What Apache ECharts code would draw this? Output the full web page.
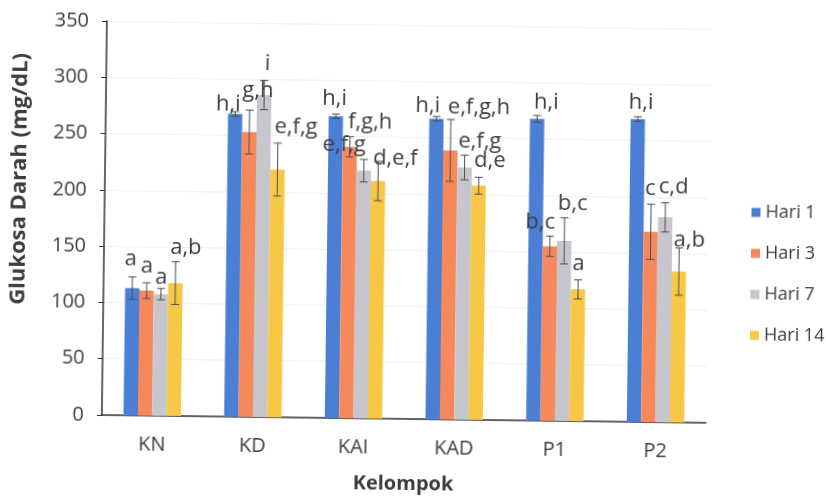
<!DOCTYPE html>
<html>
<head>
<meta charset="utf-8">
<script src="https://cdn.jsdelivr.net/npm/echarts@6/dist/echarts.min.js"></script>
<style>
  html, body { margin: 0; padding: 0; background: #fff; overflow: hidden; }
  #chart { width: 826px; height: 499px; transform: rotate(0.74deg); transform-origin: 413px 250px; }
</style>
</head>
<body>
<div id="chart"></div>
<script>
// Kelompok perlakuan dan hari pengukuran
const categories = ['KN', 'KD', 'KAI', 'KAD', 'P1', 'P2'];
const seriesNames = ['Hari 1', 'Hari 3', 'Hari 7', 'Hari 14'];

// Rata-rata glukosa darah (mg/dL)
const hari1 = [113, 269, 268, 267, 268, 269];
const hari3 = [111, 253, 241, 239, 155, 169];
const hari7 = [108, 286, 220, 224, 160, 182];
const hari14 = [118, 220, 211, 208, 117, 134];

// Simpangan baku
const sd1 = [10, 2, 2, 2, 3, 2];
const sd3 = [7, 19.5, 9, 27.5, 9, 24.5];
const sd7 = [5, 13, 10, 11, 20.5, 13];
const sd14 = [19, 23.5, 17.5, 7.5, 8.5, 21];

// Notasi uji lanjut
const notasi1 = ['a', 'h,i', 'h,i', 'h,i', 'h,i', 'h,i'];
const notasi3 = ['a', 'g,h', 'f,g,h', 'e,f,g,h', 'b,c', 'c'];
const notasi7 = ['a', 'i', 'e,f,g', 'e,f,g', 'b,c', 'c,d'];
const notasi14 = ['a,b', 'e,f,g', 'd,e,f', 'd,e', 'a', 'a,b'];

// Sumbu Y
const yMin = 0, yMax = 350, yStep = 50;

// Geser posisi notasi: [dx, jarak di atas ujung error bar] (px)
const notasiShift = [
  [[-2, 11], [-7, 1], [-1.5, 9], [-9, 4], [9, 7], [3, 8]],
  [[0, 10], [8, 13], [20, 8], [28, 6], [-10, 7], [-1, 9]],
  [[0, 5], [3, 10], [-20, 8], [15, 7], [8, 8], [8, 9]],
  [[10, 8], [18, 10], [17, -3], [11, 10], [0, 9], [10, 1]]
];

const colors = ['#4a7fd4', '#f6895c', '#c6c6cc', '#f7c746'];
const FONT = 'Open Sans';
const TEXT = '#3d3d3d';
const CAT_GAP = 0.43;

const means = [hari1, hari3, hari7, hari14];
const sds = [sd1, sd3, sd7, sd14];
const notes = [notasi1, notasi3, notasi7, notasi14];

function barSeries(idx) {
  return {
    type: 'bar',
    name: seriesNames[idx],
    data: means[idx],
    barGap: '0%',
    barCategoryGap: (CAT_GAP * 100) + '%',
    itemStyle: { color: colors[idx] },
    z: 2
  };
}

function errorSeries(idx) {
  const m = means[idx], s = sds[idx];
  return {
    type: 'custom',
    z: 5,
    silent: true,
    data: m.map((v, i) => [i, v - s[i], v + s[i]]),
    encode: { x: 0, y: [1, 2] },
    renderItem(params, api) {
      const i = params.dataIndex;
      const band = api.size([1, 0])[0];
      const barW = band * (1 - CAT_GAP) / 4;
      const cx = api.coord([api.value(0), 0])[0] + (idx - 1.5) * barW;
      const lo = api.coord([api.value(0), api.value(1)])[1];
      const hi = api.coord([api.value(0), api.value(2)])[1];
      const cap = 4;
      const line = { stroke: '#4d4d4d', lineWidth: 1 };
      const sh = notasiShift[idx][i];
      const baseline = hi - sh[1];
      return {
        type: 'group',
        children: [
          { type: 'line', shape: { x1: cx, y1: lo, x2: cx, y2: hi }, style: line },
          { type: 'line', shape: { x1: cx - cap, y1: hi, x2: cx + cap, y2: hi }, style: line },
          { type: 'line', shape: { x1: cx - cap, y1: lo, x2: cx + cap, y2: lo }, style: line },
          {
            type: 'text',
            x: cx + sh[0],
            y: baseline - 6.5,
            style: {
              text: notes[idx][i],
              fontFamily: FONT,
              fontSize: 22,
              fill: TEXT,
              align: 'center',
              verticalAlign: 'middle'
            }
          }
        ]
      };
    }
  };
}

const chart = echarts.init(document.getElementById('chart'));
chart.setOption({
  animation: false,
  backgroundColor: '#fff',
  textStyle: { fontFamily: FONT },
  grid: { left: 94, top: 25, width: 614, height: 397, containLabel: false },
  legend: {
    orient: 'vertical',
    left: 746,
    top: 192,
    icon: 'rect',
    itemWidth: 9,
    itemHeight: 9,
    itemGap: 19,
    data: seriesNames,
    textStyle: { fontFamily: FONT, fontSize: 18, color: TEXT, lineHeight: 22 }
  },
  xAxis: {
    type: 'category',
    data: categories,
    name: 'Kelompok',
    nameLocation: 'middle',
    nameGap: 55,
    nameTextStyle: { fontFamily: FONT, fontSize: 20, fontWeight: 'bold', color: TEXT },
    axisLine: { lineStyle: { color: '#333', width: 1.5 } },
    axisTick: { show: false },
    axisLabel: { fontFamily: FONT, fontSize: 20, color: TEXT, margin: 19 }
  },
  yAxis: {
    type: 'value',
    min: yMin,
    max: yMax,
    interval: yStep,
    name: 'Glukosa Darah (mg/dL)',
    nameLocation: 'middle',
    nameGap: 74,
    nameTextStyle: {
      fontFamily: FONT, fontSize: 22, fontWeight: 'bold', color: TEXT,
      padding: [0, 0, 0, 76]
    },
    axisLine: { show: true, lineStyle: { color: '#333', width: 1.5 } },
    axisTick: { show: true, inside: false, length: 5, lineStyle: { color: '#333' } },
    axisLabel: { fontFamily: FONT, fontSize: 20, color: TEXT, margin: 18 },
    splitLine: { show: true, lineStyle: { color: '#efefef', width: 1 } }
  },
  series: [
    barSeries(0), barSeries(1), barSeries(2), barSeries(3),
    errorSeries(0), errorSeries(1), errorSeries(2), errorSeries(3)
  ]
});
</script>
</body>
</html>
